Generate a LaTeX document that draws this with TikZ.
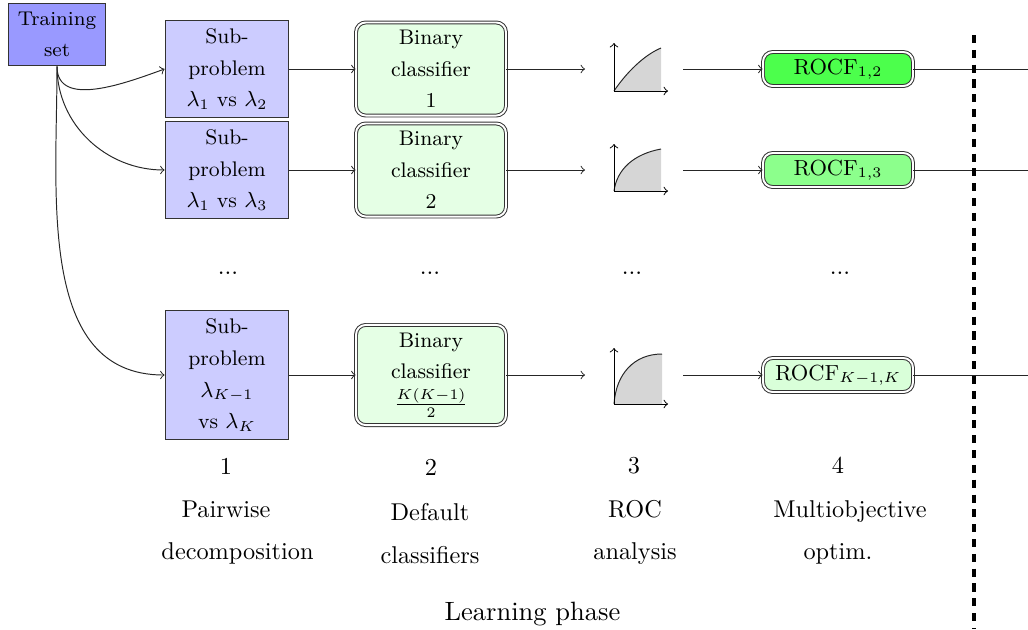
\documentclass[tikz,border=0pt]{standalone}
\begin{document}
\begin{tikzpicture}[x=0.4115pt,y=0.4115pt,>=to]
\tikzset{
  trainbox/.style={draw=black!80, fill=blue!40, minimum width=40.3pt, minimum height=25.9pt, inner sep=0pt, align=center, font=\fontsize{8.2}{12.8}\selectfont},
  subbox/.style={draw=black!80, fill=blue!20, minimum width=51pt, minimum height=39.9pt, inner sep=0pt, align=center, font=\fontsize{8.7}{13}\selectfont},
  binbox/.style={draw=black!80, double, double distance=0.8pt, rounded corners=4pt, fill=green!10, minimum width=61.7pt, minimum height=38.3pt, inner sep=0pt, align=center, font=\fontsize{8.7}{12.9}\selectfont},
  rocfbox/.style={draw=black!80, double, double distance=0.8pt, rounded corners=4pt, minimum width=61.7pt, minimum height=14pt, inner sep=0pt, font=\fontsize{9}{11}\selectfont},
  lab/.style={anchor=base, inner sep=0pt, font=\fontsize{10}{12}\selectfont},
  dotslab/.style={anchor=base, inner sep=0pt, font=\fontsize{10}{12}\selectfont},
  conn/.style={->, draw=black!85},
  plain/.style={draw=black!85},
  rocfill/.style={fill=black!16},
  sep/.style={draw=black, line width=1.6pt, dash pattern=on 3.3pt off 2.8pt},
}
\useasboundingbox (0,0) rectangle (1028,-629);

% training set
\node[trainbox] (train) at (57,-34.5) {Training\\set};

% sub-problems
\node[subbox] (sub1) at (227,-69) {Sub-\\problem\\$\lambda_1$ vs $\lambda_2$};
\node[subbox] (sub2) at (227,-170) {Sub-\\problem\\$\lambda_1$ vs $\lambda_3$};
\node[subbox, minimum height=53.1pt] (sub3) at (227,-375) {Sub-\\problem\\$\lambda_{K-1}$\\vs $\lambda_K$};

% binary classifiers
\node[binbox] (bin1) at (431,-69) {Binary\\classifier\\1};
\node[binbox] (bin2) at (431,-170) {Binary\\classifier\\2};
\node[binbox, minimum height=41.2pt] (bin3) at (431,-375) {Binary\\classifier\\$\frac{K(K-1)}{2}$};

% ROCF boxes
\node[rocfbox, fill=green!70] (rocf1) at (838,-69) {ROCF$_{1,2}$};
\node[rocfbox, fill=green!45] (rocf2) at (838,-170) {ROCF$_{1,3}$};
\node[rocfbox, fill=green!15] (rocf3) at (838,-375) {ROCF$_{K-1,K}$};

% free ends
\coordinate (a1) at (585,-69);
\coordinate (a2) at (585,-170);
\coordinate (a3) at (585,-375);
\coordinate (b1) at (683,-69);
\coordinate (b2) at (683,-170);
\coordinate (b3) at (683,-375);
\coordinate (e1) at (1028,-69);
\coordinate (e2) at (1028,-170);
\coordinate (e3) at (1028,-375);

% ROC plots
\begin{scope}[shift={(614,-91)}]
  \fill[rocfill] (0,0) .. controls (12,18) and (30,36) .. (47,43) -- (47,0) -- cycle;
  \draw[plain] (0,0) .. controls (12,18) and (30,36) .. (47,43);
  \draw[->] (0,0) -- (0,48);
  \draw[->] (0,0) -- (54,0);
\end{scope}
\begin{scope}[shift={(614,-191)}]
  \fill[rocfill] (0,0) .. controls (3,22) and (20,37) .. (47,42) -- (47,0) -- cycle;
  \draw[plain] (0,0) .. controls (3,22) and (20,37) .. (47,42);
  \draw[->] (0,0) -- (0,47);
  \draw[->] (0,0) -- (54,0);
\end{scope}
\begin{scope}[shift={(614,-404)}]
  \fill[rocfill] (0,0) .. controls (2,30) and (20,50) .. (48,50) -- (48,0) -- cycle;
  \draw[plain] (0,0) .. controls (2,30) and (20,50) .. (48,50);
  \draw[->] (0,0) -- (0,56);
  \draw[->] (0,0) -- (54,0);
\end{scope}

% connectors
\draw[conn] (train.south) to[out=-90,in=200] (sub1.west);
\draw[conn] (train.south) to[out=-90,in=180] (sub2.west);
\draw[conn] (train.south) to[out=-90,in=180] (sub3.west);
\draw[conn] (sub1.east) -- (bin1.west);
\draw[conn] (sub2.east) -- (bin2.west);
\draw[conn] (sub3.east) -- (bin3.west);
\draw[conn] (bin1.east) -- (a1);
\draw[conn] (bin2.east) -- (a2);
\draw[conn] (bin3.east) -- (a3);
\draw[conn] (b1) -- (rocf1.west);
\draw[conn] (b2) -- (rocf2.west);
\draw[conn] (b3) -- (rocf3.west);
\draw[plain] (rocf1.east) -- (e1);
\draw[plain] (rocf2.east) -- (e2);
\draw[plain] (rocf3.east) -- (e3);

% separator
\coordinate (s1) at (974,-35);
\coordinate (s2) at (974,-629);
\draw[sep] (s1) -- (s2);

% dots
\node[dotslab] (d1) at (228,-274) {...};
\node[dotslab] (d2) at (430,-274) {...};
\node[dotslab] (d3) at (632,-274) {...};
\node[dotslab] (d4) at (840,-274) {...};

% step labels
\node[lab] (n1) at (226,-474) {1};
\node[lab] (n2) at (431,-475) {2};
\node[lab] (n3) at (634,-473) {3};
\node[lab] (n4) at (838,-473) {4};
\node[lab] (l1a) at (226,-517) {Pairwise};
\node[lab] (l1b) at (237.5,-559) {decomposition};
\node[lab] (l2a) at (430,-520) {Default};
\node[lab] (l2b) at (430,-563) {classifiers};
\node[lab] (l3a) at (635,-517) {ROC};
\node[lab] (l3b) at (635,-559) {analysis};
\node[lab] (l4a) at (850,-517) {Multiobjective};
\node[lab] (l4b) at (838,-559) {optim.};

\node[anchor=base, inner sep=0pt, font=\fontsize{10.9}{13}\selectfont] (phase) at (532.5,-620) {Learning phase};
\end{tikzpicture}
\end{document}
